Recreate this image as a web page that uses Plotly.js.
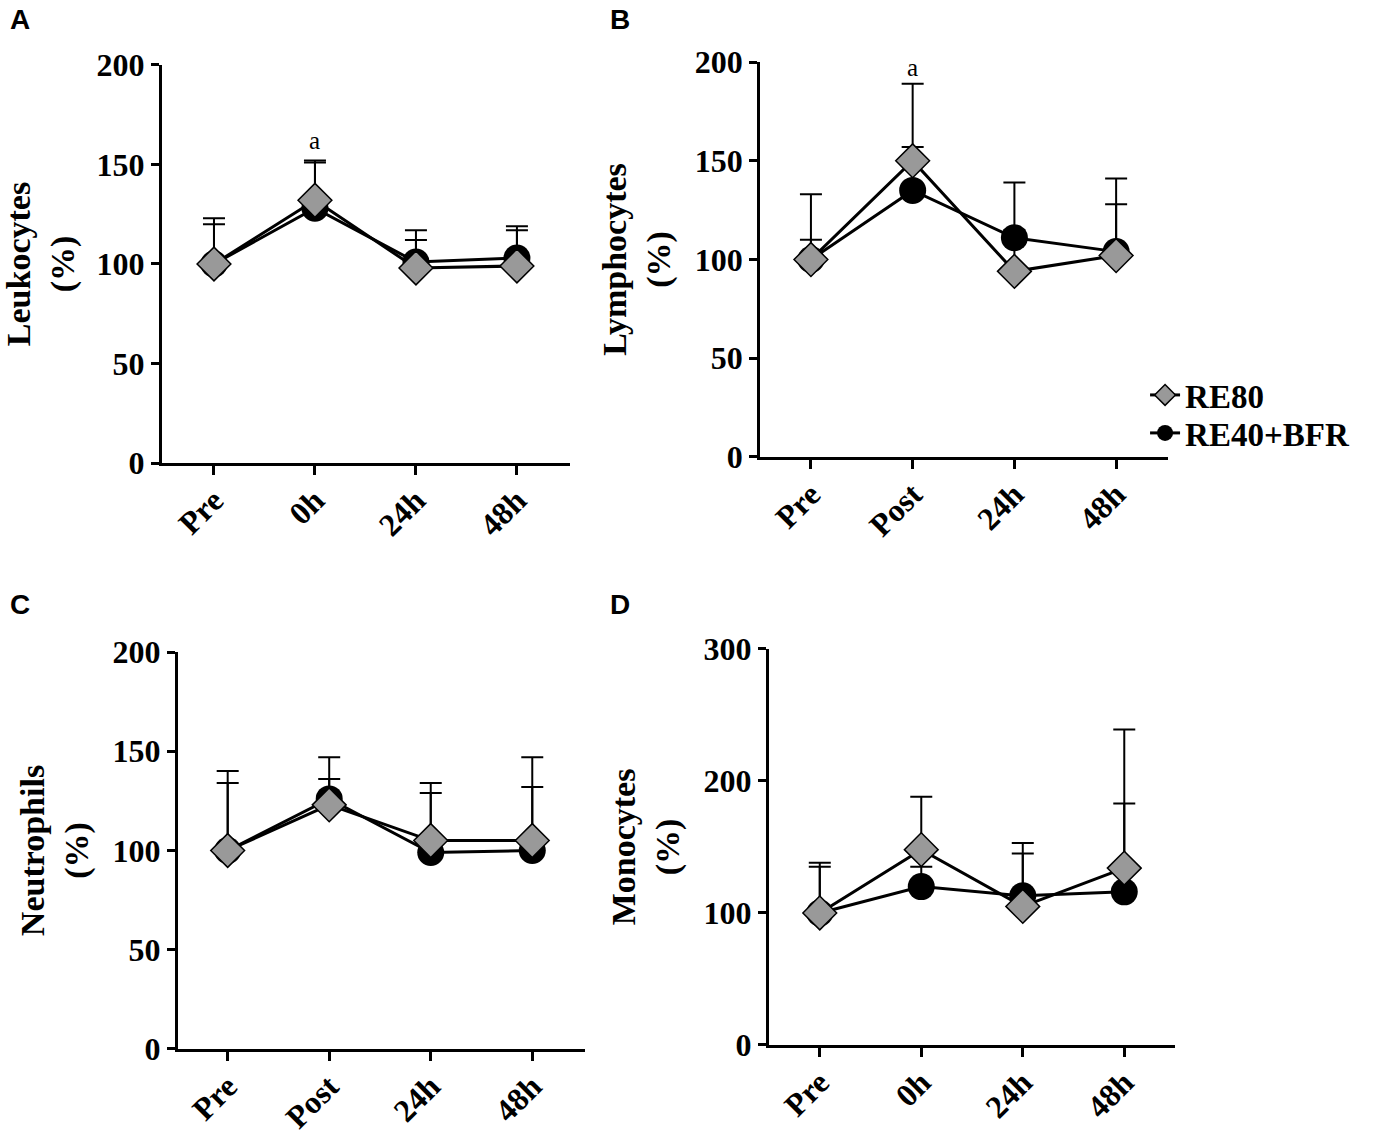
<!DOCTYPE html>
<html>
<head>
<meta charset="utf-8">
<script src="https://cdn.plot.ly/plotly-3.0.1.min.js"></script>
<style>
  html, body { margin: 0; padding: 0; background: #fff; }
  #chart { width: 1400px; height: 1134px; }
</style>
</head>
<body>
<div id="chart"></div>
<script>
// time points
const timesA = ['Pre', '0h', '24h', '48h'];
const timesB = ['Pre', 'Post', '24h', '48h'];

// A - Leukocytes (%)
const leukoRE80 = [100, 132, 98, 99];
const leukoRE80sd = [23, 20, 14, 20];
const leukoBFR = [100, 128, 101, 103];
const leukoBFRsd = [20, 23, 16, 14];

// B - Lymphocytes (%)
const lymphoRE80 = [100, 150, 94, 102];
const lymphoRE80sd = [10, 39, 21, 39];
const lymphoBFR = [100, 135, 111, 104];
const lymphoBFRsd = [33, 22, 28, 24];

// C - Neutrophils (%)
const neutroRE80 = [100, 123, 105, 105];
const neutroRE80sd = [40, 24, 29, 42];
const neutroBFR = [100, 126, 99, 100];
const neutroBFRsd = [34, 10, 30, 32];

// D - Monocytes (%)
const monoRE80 = [100, 148, 105, 134];
const monoRE80sd = [38, 40, 48, 105];
const monoBFR = [100, 120, 113, 116];
const monoBFRsd = [35, 15, 32, 67];

const serif = 'Liberation Serif, Times New Roman, serif';

function upperErr(sd) {
   return {
      type: 'data', symmetric: false,
      array: sd, arrayminus: sd.map(() => 0),
      color: '#000', thickness: 2, width: 11
   };
}

function makePanel(n, times, re80, re80sd, bfr, bfrsd, legend) {
   const sfx = n === 1 ? '' : String(n);
   // BFR first so the diamonds sit on top
   return [
      {
         name: 'RE40+BFR', x: times, y: bfr, mode: 'lines+markers',
         xaxis: 'x' + sfx, yaxis: 'y' + sfx, showlegend: legend, legend: 'legend2',
         line: {color: '#000', width: 3},
         marker: {symbol: 'circle', size: 27, color: '#000'},
         error_y: upperErr(bfrsd)
      },
      {
         name: 'RE80', x: times, y: re80, mode: 'lines+markers',
         xaxis: 'x' + sfx, yaxis: 'y' + sfx, showlegend: legend, legend: 'legend',
         line: {color: '#000', width: 3},
         marker: {symbol: 'diamond', size: 26, color: '#999999', line: {color: '#000', width: 1.5}},
         error_y: upperErr(re80sd)
      }
   ];
}

const data = [].concat(
   makePanel(1, timesA, leukoRE80, leukoRE80sd, leukoBFR, leukoBFRsd, false),
   makePanel(2, timesB, lymphoRE80, lymphoRE80sd, lymphoBFR, lymphoBFRsd, true),
   makePanel(3, timesB, neutroRE80, neutroRE80sd, neutroBFR, neutroBFRsd, false),
   makePanel(4, timesA, monoRE80, monoRE80sd, monoBFR, monoBFRsd, false)
);

function xAxis(domain, range, anchor, cats) {
   return {
      domain: domain, range: range, anchor: anchor,
      type: 'category', categoryarray: cats,
      showline: true, linewidth: 3, linecolor: '#000',
      ticks: 'outside', ticklen: 9, tickwidth: 3, tickcolor: '#000',
      tickangle: -45, ticklabelstandoff: -6, showgrid: false, zeroline: false,
      tickfont: {family: serif, size: 32, color: '#000', weight: 'bold'}
   };
}

function yAxis(domain, range, dtick, anchor, title) {
   return {
      domain: domain, range: range, anchor: anchor,
      tickmode: 'linear', tick0: 0, dtick: dtick,
      showline: true, linewidth: 3, linecolor: '#000',
      ticks: 'outside', ticklen: 8, tickwidth: 3, tickcolor: '#000',
      showgrid: false, zeroline: false,
      tickfont: {family: serif, size: 32, color: '#000', weight: 'bold'},
      title: {text: title, standoff: 14,
              font: {family: serif, size: 34, color: '#000', weight: 'bold'}}
   };
}

const legendFont = {family: serif, size: 33, color: '#000', weight: 'bold'};
const letterFont = {family: 'Liberation Sans, Arial, sans-serif', size: 28, color: '#000', weight: 'bold'};
const aFont = {family: serif, size: 25, color: '#000'};

const layout = {
   width: 1400, height: 1134,
   margin: {l: 0, r: 0, t: 0, b: 0},
   paper_bgcolor: '#fff', plot_bgcolor: '#fff',
   xaxis:  xAxis([0.1157, 0.4071], [-0.515, 3.525], 'y', timesA),
   yaxis:  yAxis([0.5917, 0.9427], [0, 200], 50, 'x', 'Leukocytes<br>(%)'),
   xaxis2: xAxis([0.5429, 0.8343], [-0.5, 3.51], 'y2', timesB),
   yaxis2: yAxis([0.5970, 0.9453], [0, 200], 50, 'x2', 'Lymphocytes<br>(%)'),
   xaxis3: xAxis([0.1271, 0.4179], [-0.49, 3.52], 'y3', timesB),
   yaxis3: yAxis([0.0750, 0.4250], [0, 200], 50, 'x3', 'Neutrophils<br>(%)'),
   xaxis4: xAxis([0.5493, 0.8393], [-0.5, 3.5], 'y4', timesA),
   yaxis4: yAxis([0.0785, 0.4277], [0, 300], 100, 'x4', 'Monocytes<br>(%)'),
   legend: {
      x: 0.8179, y: 0.6517, xanchor: 'left', yanchor: 'middle',
      bgcolor: 'rgba(0,0,0,0)', font: legendFont
   },
   legend2: {
      x: 0.8179, y: 0.6182, xanchor: 'left', yanchor: 'middle',
      bgcolor: 'rgba(0,0,0,0)', font: legendFont
   },
   annotations: [
      {text: 'A', xref: 'paper', yref: 'paper', x: 0.006, y: 0.998, xanchor: 'left', yanchor: 'top', showarrow: false, font: letterFont},
      {text: 'B', xref: 'paper', yref: 'paper', x: 0.434, y: 0.998, xanchor: 'left', yanchor: 'top', showarrow: false, font: letterFont},
      {text: 'C', xref: 'paper', yref: 'paper', x: 0.006, y: 0.482, xanchor: 'left', yanchor: 'top', showarrow: false, font: letterFont},
      {text: 'D', xref: 'paper', yref: 'paper', x: 0.434, y: 0.482, xanchor: 'left', yanchor: 'top', showarrow: false, font: letterFont},
      {text: 'a', xref: 'x', yref: 'y', x: '0h', y: 162, showarrow: false, font: aFont},
      {text: 'a', xref: 'x2', yref: 'y2', x: 'Post', y: 197, showarrow: false, font: aFont}
   ]
};

Plotly.newPlot('chart', data, layout, {staticPlot: true});
</script>
</body>
</html>
